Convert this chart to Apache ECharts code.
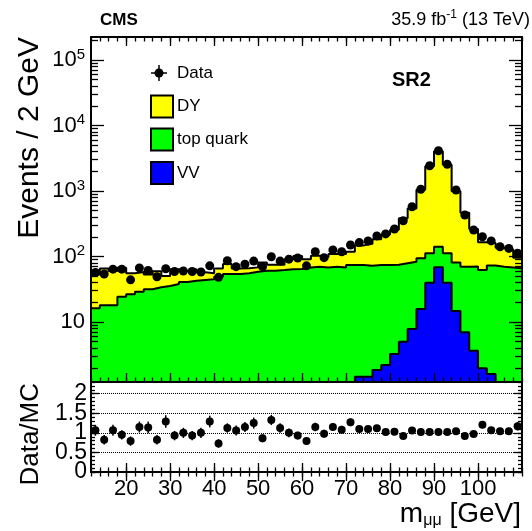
<!DOCTYPE html>
<html><head><meta charset="utf-8">
<script src="https://cdn.jsdelivr.net/npm/echarts@6/dist/echarts.min.js"></script>
<style>html,body{margin:0;padding:0;background:#fff;}#c{width:532px;height:531px;}</style>
</head><body><div id="c"></div>
<script>
// ---- data (bins of 2 GeV, lower edges) ----
const binLow = [12,14,16,18,20,22,24,26,28,30,32,34,36,38,40,42,44,46,48,50,52,54,56,58,60,62,64,66,68,70,72,74,76,78,80,82,84,86,88,90,92,94,96,98,100,102,104,106,108];
const dataCounts = [57,54,64,64,44,67,61,49,65,59,60,59,58,72,48,86,70,76,85,70,99,85,91,95,72,118,96,126,118,150,163,173,206,221,263,352,575,1062,2432,4120,2560,1035,430,254,200,173,141,133,112];
const dy = [36.9,47.5,41.9,43.1,28.8,29,21.6,25.7,15,25.9,19.2,21.2,13.7,10.6,16.6,22.6,11.7,10.7,9.6,20.5,14,12.9,26.8,37.5,22.6,32.6,29.9,39.2,41.3,44.1,73.8,84.9,109.6,142.3,180.3,303.6,459.5,947,2272,3898,2398,914,397,192,103,88,65.6,60,29.7];
const topQuark = [16.2,18,18,24.3,26.5,29,31.6,33.9,35.5,38,40.8,42.7,43.8,44.9,49.2,54.1,54.1,55.4,58.6,60.7,60.7,62.2,63.8,64.4,68,70,68,70,68,72.9,72.5,70.5,72.2,71.8,71.8,74,75.2,78.2,72.2,72.6,72.2,66.3,63,66.4,60,71.4,68.9,68,66];
const vv = [0,0,0,0,0,0,0,0,0,0,0,0,0,0,0,0,0,0,0,0,0,0,0,0,0,0,0,0,0,1.1,1.46,1.46,1.85,2.21,3.25,5.0,7.8,15.8,39.8,68.4,39.8,14.7,7.0,3.65,1.96,1.61,1.1,0,0];
const ratio = [1.065,0.825,1.065,0.95,0.79,1.15,1.14,0.825,1.29,0.93,1.0,0.93,1.0,1.29,0.73,1.125,1.06,1.15,1.25,0.86,1.33,1.125,1.0,0.93,0.79,1.15,0.98,1.15,1.08,1.27,1.1,1.1,1.12,1.02,1.03,0.92,1.06,1.02,1.02,1.02,1.02,1.04,0.92,0.97,1.21,1.07,1.04,1.04,1.17];
const ratioErr = [0.14,0.12,0.14,0.12,0.12,0.14,0.15,0.12,0.16,0.12,0.13,0.12,0.13,0.15,0.11,0.12,0.13,0.13,0.14,0.10,0.13,0.12,0.11,0.10,0.09,0.11,0.10,0.10,0.10,0.10,0.09,0.08,0.08,0.07,0.06,0.05,0.04,0.03,0.02,0.02,0.02,0.03,0.04,0.06,0.09,0.08,0.09,0.09,0.11];
const xTicks = [20,30,40,50,60,70,80,90,100];
const yDecades = [10,100,1000,10000,100000];
const ratioTicks = [0,0.5,1,1.5,2];
const ratioLabelsA = [0,1,2];
const ratioLabelsB = [0.5,1.5];
const ratioGuides = [0.5,1,1.5,2];

// ---- helpers ----
const FONT = '"Liberation Sans", Arial, Helvetica, sans-serif';
const BW = 2;
const xMin = 12, xMax = 110;
const yMin = 1.213, yMax = 2.244e5;
const centers = binLow.map(x => x + BW / 2);
const cumVV = vv.slice();
const cumTop = topQuark.map((v, i) => v + vv[i]);
const cumAll = dy.map((v, i) => v + cumTop[i]);
function stepData(vals) {
  const out = binLow.map((x, i) => [x, vals[i] > 0 ? vals[i] : null]);
  const last = vals[vals.length - 1];
  out.push([binLow[binLow.length - 1] + BW, last > 0 ? last : null]);
  return out;
}
const minorLog = [];
for (let e = 0; e <= 5; e++) for (let m = 2; m <= 9; m++) {
  const v = m * Math.pow(10, e);
  if (v > yMin && v < yMax) minorLog.push(v);
}
const black = '#000';

function xAx(grid, pos, major, labels) {
  const a = {
    type: 'value', gridIndex: grid, position: pos, min: xMin, max: xMax, z: 10,
    splitLine: { show: false },
    axisLine: { show: major, lineStyle: { color: black, width: 2 } },
    axisTick: { show: true, inside: true, length: major ? 9 : 4.5, lineStyle: { color: black, width: 1.3 } },
    axisLabel: { show: false }
  };
  if (major) a.axisTick.customValues = xTicks; else a.interval = BW;
  if (labels) a.axisLabel = { show: true, customValues: xTicks, fontSize: 22, fontFamily: FONT, color: black, margin: 6, hideOverlap: false };
  return a;
}
function yLog(pos, major, labels) {
  const a = {
    type: 'log', logBase: 10, gridIndex: 0, position: pos, min: yMin, max: yMax, z: 10,
    splitLine: { show: false },
    axisLine: { show: major, lineStyle: { color: black, width: 2 } },
    axisTick: { show: true, inside: true, length: major ? 13 : 7, customValues: major ? yDecades : minorLog, lineStyle: { color: black, width: 1.3 } },
    axisLabel: { show: false }
  };
  if (labels) a.axisLabel = {
    show: true, customValues: yDecades, margin: 6, color: black, hideOverlap: false,
    formatter: v => { const e = Math.round(Math.log10(v)); return e === 1 ? '{b|10}' : '{b|10}{s|' + e + '}'; },
    rich: { b: { fontSize: 22, fontFamily: FONT, color: black, lineHeight: 26 },
            s: { fontSize: 15, fontFamily: FONT, color: black, lineHeight: 18, verticalAlign: 'top' } }
  };
  return a;
}
function yRatio(pos, major, labelVals) {
  const a = {
    type: 'value', gridIndex: 1, position: pos, min: 0, max: 2.3, z: 10,
    splitLine: { show: false },
    axisLine: { show: major, lineStyle: { color: black, width: 2 } },
    axisTick: { show: true, inside: true, length: major ? 8 : 4, lineStyle: { color: black, width: 1.3 } },
    axisLabel: { show: false }
  };
  if (major) a.axisTick.customValues = ratioTicks; else a.interval = 0.1;
  if (labelVals) {
    a.axisLine.show = false; a.axisTick.show = false;
    a.axisLabel = { show: true, customValues: labelVals, fontSize: 23, fontFamily: FONT, color: black, margin: 4,
      hideOverlap: false, showMinLabel: true, showMaxLabel: true };
  }
  return a;
}

function hist(name, vals, color, z) {
  return {
    type: 'line', name: name, xAxisIndex: 0, yAxisIndex: 0, step: 'end', z: z,
    data: stepData(vals), symbol: 'none', connectNulls: false,
    lineStyle: { color: black, width: 2 },
    areaStyle: { color: color, opacity: 1, origin: 'start' },
    itemStyle: { color: color }
  };
}

const chart = echarts.init(document.getElementById('c'), null, { renderer: 'canvas' });
const option = {
  animation: false,
  backgroundColor: '#fff',
  grid: [
    { left: 91, top: 37, width: 431, height: 345 },
    { left: 91, top: 382, width: 431, height: 90 }
  ],
  xAxis: [
    xAx(0, 'bottom', true, false), xAx(0, 'bottom', false, false),
    xAx(0, 'top', true, false), xAx(0, 'top', false, false),
    xAx(1, 'bottom', true, true), xAx(1, 'bottom', false, false),
    xAx(1, 'top', true, false), xAx(1, 'top', false, false)
  ],
  yAxis: [
    yLog('left', true, true), yLog('left', false, false),
    yLog('right', true, false), yLog('right', false, false),
    yRatio('left', true, null), yRatio('left', false, null),
    yRatio('right', true, null), yRatio('right', false, null),
    yRatio('left', true, ratioLabelsA), yRatio('left', true, ratioLabelsB)
  ],
  series: [
    hist('DY', cumAll, '#ffff00', 2),
    hist('top quark', cumTop, '#00ff00', 3),
    hist('VV', cumVV, '#0000ff', 4),
    {
      type: 'scatter', name: 'Data', xAxisIndex: 0, yAxisIndex: 0, z: 6,
      data: centers.map((x, i) => [x, dataCounts[i]]),
      symbol: 'circle', symbolSize: 9, itemStyle: { color: black, opacity: 1 }
    },
    {
      type: 'custom', name: 'ratioErr', xAxisIndex: 4, yAxisIndex: 4, z: 5,
      data: centers.map((x, i) => [x, ratio[i], ratioErr[i]]),
      encode: { x: 0, y: 1 },
      renderItem: (params, api) => {
        const x = api.value(0), y = api.value(1), e = api.value(2);
        const p1 = api.coord([x, y - e]), p2 = api.coord([x, y + e]);
        return { type: 'line', shape: { x1: p1[0], y1: p1[1], x2: p2[0], y2: p2[1] }, style: { stroke: black, lineWidth: 1.5 } };
      }
    },
    {
      type: 'scatter', name: 'Ratio', xAxisIndex: 4, yAxisIndex: 4, z: 6,
      data: centers.map((x, i) => [x, ratio[i]]),
      symbol: 'circle', symbolSize: 8, itemStyle: { color: black, opacity: 1 },
      markLine: {
        silent: true, symbol: 'none', label: { show: false },
        lineStyle: { type: 'dotted', color: black, width: 1 },
        data: ratioGuides.map(v => ({ yAxis: v }))
      }
    }
  ],
  graphic: [
    { type: 'text', x: 100, y: 20, style: { text: 'CMS', fontSize: 17, fontWeight: 'bold', fontFamily: FONT, fill: black, verticalAlign: 'middle' } },
    { type: 'text', x: 530, y: 20, style: { text: '35.9 fb{s|-1} (13 TeV)', fontSize: 18, fontFamily: FONT, fill: black, align: 'right', verticalAlign: 'middle', lineHeight: 22,
        rich: { s: { fontSize: 12, fontFamily: FONT, fill: black, verticalAlign: 'top', lineHeight: 12 } } } },
    { type: 'text', x: 392, y: 80, style: { text: 'SR2', fontSize: 20, fontWeight: 'bold', fontFamily: FONT, fill: black, verticalAlign: 'middle' } },
    { type: 'text', x: 30, y: 37, rotation: Math.PI / 2, style: { text: 'Events / 2 GeV', fontSize: 30, fontFamily: FONT, fill: black, align: 'right', verticalAlign: 'middle' } },
    { type: 'text', x: 31, y: 383, rotation: Math.PI / 2, style: { text: 'Data/MC', fontSize: 26, fontFamily: FONT, fill: black, align: 'right', verticalAlign: 'middle' } },
    { type: 'text', x: 521, y: 514, style: { text: '{a|m}{b|μμ}{a| [GeV]}', align: 'right', verticalAlign: 'middle',
        rich: { a: { fontSize: 28, fontFamily: FONT, fill: black, lineHeight: 30 },
                b: { fontSize: 16, fontFamily: FONT, fill: black, lineHeight: 10, verticalAlign: 'bottom' } } } },
    // legend
    { type: 'line', shape: { x1: 151, y1: 73, x2: 167, y2: 73 }, style: { stroke: black, lineWidth: 1.5 } },
    { type: 'line', shape: { x1: 159, y1: 65, x2: 159, y2: 81 }, style: { stroke: black, lineWidth: 1.5 } },
    { type: 'circle', shape: { cx: 159, cy: 73, r: 4.5 }, style: { fill: black } },
    { type: 'text', x: 177, y: 73, style: { text: 'Data', fontSize: 17, fontFamily: FONT, fill: black, verticalAlign: 'middle' } },
    { type: 'rect', shape: { x: 151, y: 95.5, width: 22, height: 22 }, style: { fill: '#ffff00', stroke: black, lineWidth: 2 } },
    { type: 'text', x: 177, y: 106.5, style: { text: 'DY', fontSize: 17, fontFamily: FONT, fill: black, verticalAlign: 'middle' } },
    { type: 'rect', shape: { x: 151, y: 128.5, width: 22, height: 22 }, style: { fill: '#00ff00', stroke: black, lineWidth: 2 } },
    { type: 'text', x: 177, y: 139.5, style: { text: 'top quark', fontSize: 17, fontFamily: FONT, fill: black, verticalAlign: 'middle' } },
    { type: 'rect', shape: { x: 151, y: 162, width: 22, height: 22 }, style: { fill: '#0000ff', stroke: black, lineWidth: 2 } },
    { type: 'text', x: 177, y: 173, style: { text: 'VV', fontSize: 17, fontFamily: FONT, fill: black, verticalAlign: 'middle' } }
  ]
};
chart.setOption(option);
</script></body></html>
